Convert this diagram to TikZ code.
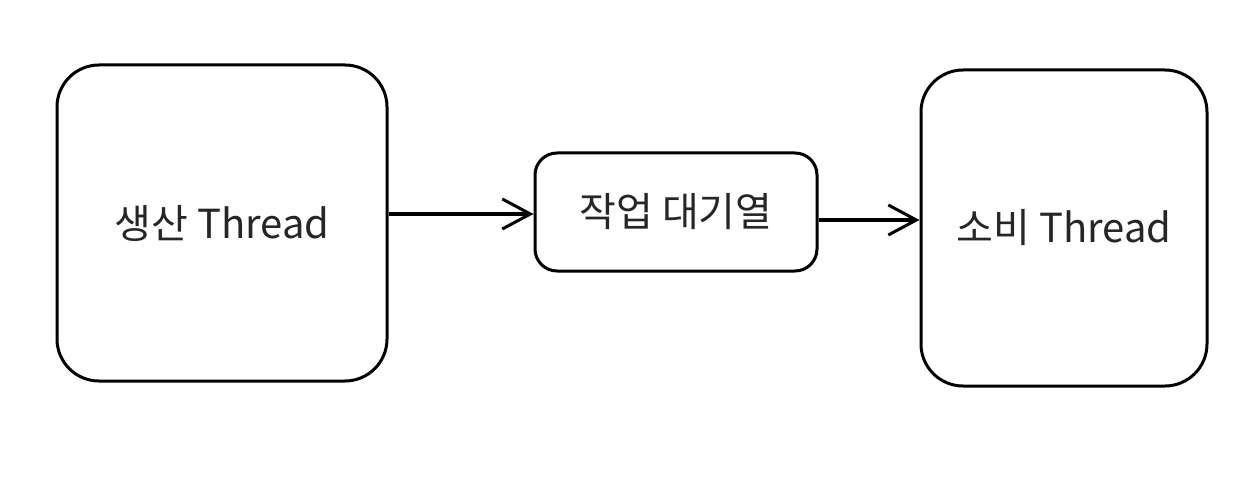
\documentclass[tikz,border=0pt]{standalone}
\usepackage{fontspec}
\setmainfont{Noto Sans CJK KR}
\usetikzlibrary{arrows.meta}
\begin{document}
\begin{tikzpicture}[x=1pt,y=-1pt,
  box/.style={draw=black,line width=3pt,rounded corners=#1},
  lbl/.style={font=\fontsize{40}{44}\selectfont,text=black!85},
  conn/.style={draw=black,line width=#1,-{Straight Barb[length=28pt,width=30pt,line width=3pt]}}]
\useasboundingbox[fill=white] (0,0) rectangle (1254,500);
\node[box=42pt,minimum width=330pt,minimum height=316pt] (p) at (222,223) {};
\node[box=22pt,minimum width=282pt,minimum height=118pt] (q) at (676,212) {};
\node[box=42pt,minimum width=286pt,minimum height=316pt] (c) at (1064,228) {};
\node[lbl] at (p.center) {생산 Thread};
\node[lbl] at (q.center) {작업 대기열};
\node[lbl] at (c.center) {소비 Thread};
\draw[conn=4.5pt] (p.east |- 0,214) -- (q.west |- 0,214);
\draw[conn=3.5pt] (q.east |- 0,220) -- (c.west |- 0,220);
\end{tikzpicture}
\end{document}
